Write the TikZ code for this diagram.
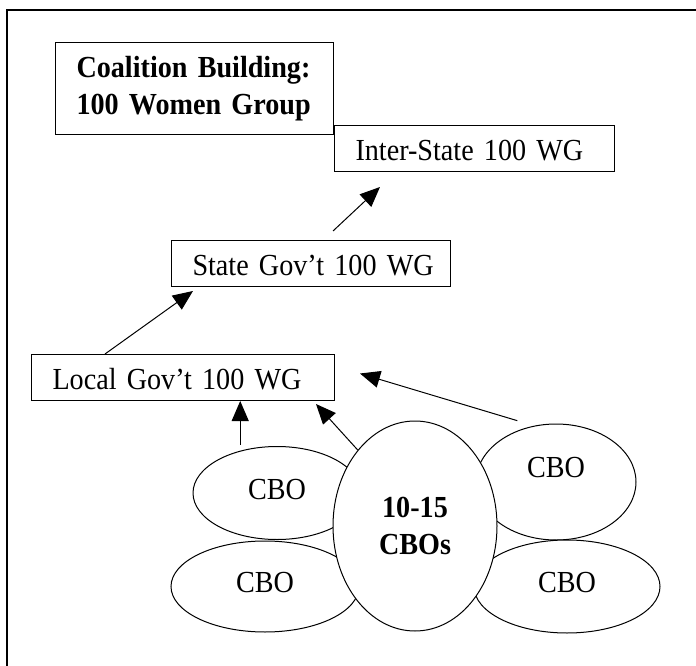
\documentclass[tikz,border=0pt]{standalone}
\usepackage{fontspec}
\setmainfont{Liberation Serif}[FakeStretch=0.92, BoldFeatures={FakeStretch=0.92}]
\usetikzlibrary{positioning,arrows.meta,shapes.geometric}
\newcommand{\wgfont}{\fontsize{30.6pt}{36.7pt}\selectfont}

\begin{document}
\begin{tikzpicture}[
  x=1pt, y=-1pt, >={Triangle[length=20pt,width=17pt]}, line width=1pt,
  every node/.style={font=\wgfont},
  box/.style={draw, inner xsep=0pt, inner ysep=0pt, minimum height=46pt, align=left, text height=24pt, text depth=0pt, execute at begin node={\hspace*{21pt}}},
  titlebox/.style={draw, inner xsep=17pt, minimum height=92pt, align=left, font=\fontsize{30.6pt}{36.7pt}\selectfont\bfseries},
  cbo/.style={draw, ellipse, fill=white, inner sep=0pt, text height=20pt, text depth=8pt},
  hub/.style={draw, ellipse, fill=white, inner sep=0pt, align=center, font=\wgfont\bfseries},
]
  \clip (0,0) rectangle (696,666);
  \draw[line width=1.3pt] (7,10) rectangle (720,690);

  \node[titlebox, text width=244pt, anchor=north west] (coal) at (55,42) {\hspace*{4pt}Coalition Building:\\\hspace*{4pt}100 Women Group};
  \node[box, text width=280pt, anchor=north west] (inter) at ([yshift=10pt]coal.south east) {Inter-State 100 WG};
  \node[box, text width=279pt, anchor=north west] (state) at (171,240) {State Gov’t 100 WG};
  \node[box, text width=303pt, anchor=north west] (local) at (31,354) {Local Gov’t 100 WG};

  \node[cbo, minimum width=168pt, minimum height=93pt] (cboul) at (277,493) {CBO};
  \node[cbo, minimum width=160pt, minimum height=116pt, text depth=29pt] (cbour) at (556,482) {CBO};
  \node[cbo, minimum width=188pt, minimum height=91pt] (cboll) at (265,586.5) {CBO};
  \node[cbo, minimum width=186pt, minimum height=93pt] (cbolr) at (567,586.5) {CBO};
  \node[hub, minimum width=164pt, minimum height=210pt] (hub) at (415,526) {10-15\\CBOs};

  \draw[->] ([xshift=74pt]local.north west) -- ([xshift=22pt,yshift=-4pt]state.south west);
  \draw[->] ([xshift=162pt,yshift=9pt]state.north west) -- ([xshift=46pt,yshift=-15pt]inter.south west);
  \draw[->] ([yshift=6pt]cboul.131) -- (cboul.131 |- local.south);
  \draw[->] (hub.127) -- ([xshift=-19pt,yshift=-3pt]local.south east);
  \draw[->] ([yshift=10pt]cbour.127) -- ([xshift=25pt,yshift=4pt]local.east);
\end{tikzpicture}
\end{document}
